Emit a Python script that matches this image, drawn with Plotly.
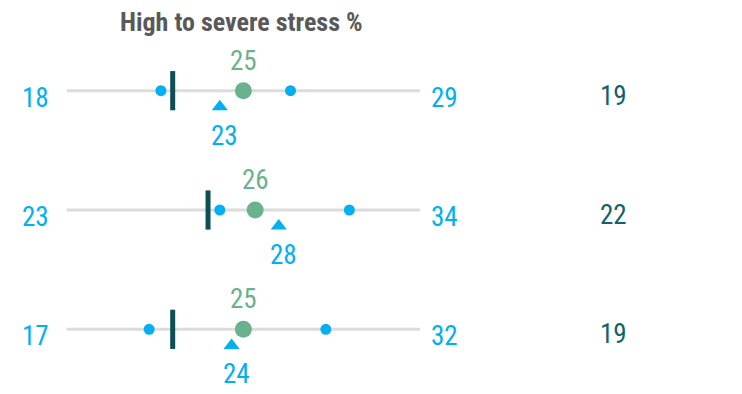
import plotly.graph_objects as go

# Stress-level summary: one row per group
rows = ["Row A", "Row B", "Row C"]
min_vals = [18, 23, 17]
max_vals = [29, 34, 32]
avg_vals = [25, 26, 25]      # green circle
tri_vals = [23, 28, 24]      # blue triangle
bar_vals = [19, 22, 19]      # dark vertical marker, also listed in the right column

AXIS_MIN, AXIS_MAX = 10, 40
title_text = "High to severe stress %"

BLUE = "#00B0F0"
GREEN = "#6AB18E"
DARK = "#0D4F55"
TEAL_TXT = "#13626B"
GREY_LINE = "#DCDCDC"
TITLE_GREY = "#595959"
FONT = "Roboto Condensed, Liberation Sans Narrow, Arial Narrow, sans-serif"
NUM_SIZE = 27

TRI_OFFSET = 0.135  # triangle sits just under the track

ys = list(range(len(rows)))
fig = go.Figure()

# grey tracks
for y in ys:
    fig.add_trace(go.Scatter(x=[AXIS_MIN, AXIS_MAX], y=[y, y], mode="lines",
                             line=dict(color=GREY_LINE, width=3),
                             hoverinfo="skip", showlegend=False))

# min / max dots
fig.add_trace(go.Scatter(x=min_vals + max_vals, y=ys + ys, mode="markers",
                         marker=dict(color=BLUE, size=11, line=dict(width=0)),
                         showlegend=False))

# vertical bar marker
fig.add_trace(go.Scatter(x=bar_vals, y=ys, mode="markers",
                         marker=dict(symbol="line-ns", size=28,
                                     line=dict(color=DARK, width=5)),
                         showlegend=False))

# triangle just below the track
fig.add_trace(go.Scatter(x=tri_vals, y=[y + TRI_OFFSET for y in ys],
                         mode="markers",
                         marker=dict(symbol="triangle-up", color=BLUE, size=14,
                                     line=dict(width=0)),
                         showlegend=False))

# green circle
fig.add_trace(go.Scatter(x=avg_vals, y=ys, mode="markers",
                         marker=dict(color=GREEN, size=17, line=dict(width=0)),
                         showlegend=False))


def label(x, y, text, color, xref="x", dx=0, dy=0):
    return dict(x=x, y=y, xref=xref, yref="y", text=text, showarrow=False,
                xanchor="center", yanchor="middle", xshift=dx, yshift=dy,
                font=dict(family=FONT, size=NUM_SIZE, color=color))


annotations = []
for y, lo, hi, av, tr, br in zip(ys, min_vals, max_vals, avg_vals, tri_vals, bar_vals):
    annotations.append(label(av, y, str(av), GREEN, dy=30))
    annotations.append(label(tr, y, str(tr), BLUE, dx=5, dy=-45))
    annotations.append(label(35.5 / 742, y, str(lo), BLUE, xref="paper", dy=-7))
    annotations.append(label(444.5 / 742, y, str(hi), BLUE, xref="paper", dy=-7))
    annotations.append(label(613 / 742, y, str(br), TEAL_TXT, xref="paper", dy=-5))

annotations.append(dict(x=241 / 742, y=1 - 22 / 394, xref="paper", yref="paper",
                        xanchor="center", yanchor="middle",
                        text=f"<b>{title_text}</b>", showarrow=False,
                        font=dict(family=FONT, size=26, color=TITLE_GREY)))

fig.update_layout(
    width=742, height=394,
    margin=dict(l=0, r=0, t=0, b=0),
    paper_bgcolor="white", plot_bgcolor="white",
    xaxis=dict(range=[4.34, 67.33], visible=False, fixedrange=True),
    yaxis=dict(range=[2.542, -0.760], visible=False, fixedrange=True),
    annotations=annotations,
    showlegend=False,
)

fig.write_html("out.html")
